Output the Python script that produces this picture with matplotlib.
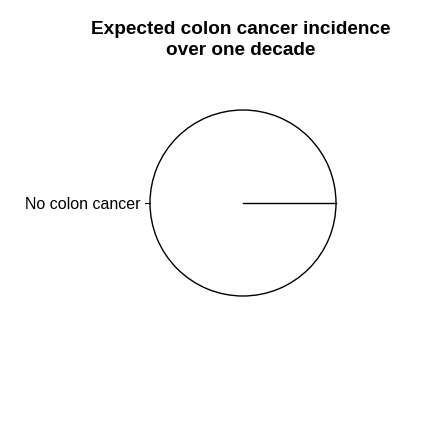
import matplotlib
matplotlib.use("Agg")
import matplotlib.pyplot as plt
import numpy as np

plt.rcParams['font.family'] = ['Liberation Sans', 'DejaVu Sans']

labels = ["No colon cancer"]
values = [1.0]
title = "Expected colon cancer incidence\nover one decade"

W, H = 448, 427
fig = plt.figure(figsize=(W / 100, H / 100), dpi=100)

# pie centre and radius in pixels
cx, cy, r = 243, 204, 93
lim = 1.5
ax = fig.add_axes([(cx - lim * r) / W, 1 - (cy + lim * r) / H, 2 * lim * r / W, 2 * lim * r / H])

wedges, texts = ax.pie(values, labels=labels, labeldistance=1.1, startangle=0,
                       counterclock=True, colors=["white"],
                       wedgeprops=dict(edgecolor="black", linewidth=1.0),
                       textprops=dict(fontsize=11.5))
for w, t in zip(wedges, texts):
    # slice border from the centre
    a0 = np.deg2rad(w.theta1)
    ax.plot([0, np.cos(a0)], [0, np.sin(a0)], color="black", linewidth=1.0)
    # small tick towards the label
    ang = np.deg2rad((w.theta1 + w.theta2) / 2)
    ax.plot([np.cos(ang), 1.05 * np.cos(ang)], [np.sin(ang), 1.05 * np.sin(ang)],
            color="black", linewidth=0.8)

ax.set_xlim(-lim, lim)
ax.set_ylim(-lim, lim)
ax.set_aspect("equal")
ax.axis("off")

fig.text(241 / W, 1 - 40 / H, title, ha="center", va="center",
         fontsize=13.7, fontweight="bold", linespacing=1.3)

fig.savefig("out.png", dpi=100, facecolor="white")
